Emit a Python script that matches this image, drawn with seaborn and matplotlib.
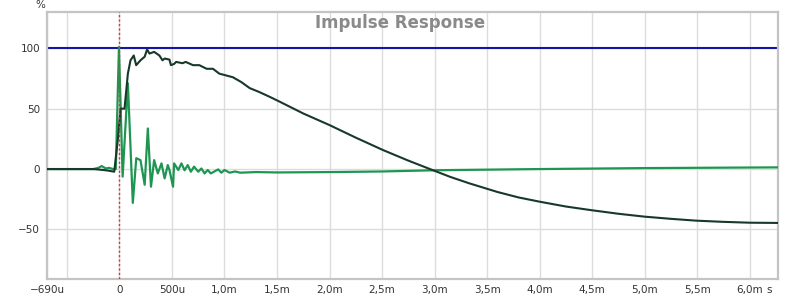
import numpy as np
import pandas as pd
import matplotlib
matplotlib.use("Agg")
import matplotlib.pyplot as plt
import seaborn as sns

# ---- data ----
step_t_ms = [-0.69, -0.4, -0.25, -0.15, -0.1, -0.05, -0.016, 0.01, 0.048, 0.08, 0.105, 0.136,
             0.159, 0.2, 0.24, 0.263, 0.286, 0.33, 0.38, 0.41, 0.43, 0.476, 0.49, 0.52, 0.54,
             0.6, 0.63, 0.7, 0.76, 0.83, 0.89, 0.95, 1.08, 1.16, 1.24, 1.33, 1.43, 1.52, 1.75,
             2.0, 2.25, 2.51, 2.75, 2.98, 3.15, 3.33, 3.6, 3.8, 4.0, 4.25, 4.49, 4.75, 5.0,
             5.25, 5.49, 5.75, 6.0, 6.27]
step_pct = [0, 0, 0, -0.8, -1.4, -2.2, 24, 50, 50, 79, 90, 94,
            86, 90, 93, 99, 95.6, 97, 94, 90, 91.5, 90.6, 86, 87, 88.7,
            87.6, 88.7, 86, 86, 83, 83, 79, 76, 72, 67, 63.8, 59.8, 56, 46,
            36.4, 26, 15.7, 7, -0.8, -6.5, -11.8, -19, -23.5, -27, -31, -34, -37, -39.4,
            -41.2, -42.7, -43.7, -44.4, -44.6]

imp_t_ms = [-0.69, -0.25, -0.2, -0.17, -0.13, -0.1, -0.06, -0.035, -0.005, 0.03, 0.08, 0.127,
            0.16, 0.2, 0.24, 0.27, 0.30, 0.33, 0.365, 0.40, 0.43, 0.46, 0.476, 0.51, 0.52,
            0.56, 0.59, 0.62, 0.65, 0.68, 0.71, 0.75, 0.78, 0.81, 0.84, 0.87, 0.94, 0.97,
            1.0, 1.05, 1.1, 1.15, 1.3, 1.5, 2.0, 2.5, 3.0, 3.5, 4.0, 5.0, 6.27]
imp_pct = [0, 0, 1, 2.5, 0.5, 1, 0, 0, 101, -6.3, 71, -28,
           9, 7.4, -13, 33.6, -14.6, 7.4, -3.6, 4.7, -7.7, 3.3, -0.8, -14.6, 4.7,
           -0.8, 4.7, -1, 3.3, -2.2, 2, -2.2, 0.5, -3.6, -0.8, -3.6, -0.3, -3,
           -0.8, -3, -2, -3, -2.5, -2.8, -2.5, -2, -1, -0.5, 0, 0.8, 1.4]

reference_pct = 100
x_ticks = [-0.69, -0.5, 0, 0.5, 1.0, 1.5, 2.0, 2.5, 3.0, 3.5, 4.0, 4.5, 5.0, 5.5, 6.0]
x_tick_labels = ["\u2212690u", "", "0", "500u", "1,0m", "1,5m", "2,0m", "2,5m", "3,0m",
                 "3,5m", "4,0m", "4,5m", "5,0m", "5,5m", "6,0m"]
y_ticks = [-50, 0, 50, 100]
y_tick_labels = ["\u221250", "0", "50", "100"]

sns.set_style("white")
plt.rcParams['font.family'] = ['DejaVu Sans']

fig = plt.figure(figsize=(8, 2.99), dpi=100)
ax = fig.add_axes([47 / 800, 1 - 279 / 299, (778 - 47) / 800, (279 - 12) / 299])

step_df = pd.DataFrame({"t": step_t_ms, "v": step_pct})
imp_df = pd.DataFrame({"t": imp_t_ms, "v": imp_pct})

ax.axhline(reference_pct, color="#1414a8", lw=1.5, zorder=2)
ax.axvline(0, color="#e03434", lw=1.0, ls=(0, (1.6, 1.6)), zorder=5)

sns.lineplot(data=imp_df, x="t", y="v", ax=ax, color="#1e9651", lw=1.6,
             estimator=None, sort=False, zorder=3)
sns.lineplot(data=step_df, x="t", y="v", ax=ax, color="#17392a", lw=1.5,
             estimator=None, sort=False, zorder=4)

ax.set_xlim(-0.69, 6.27)
ax.set_ylim(-91, 130)
ax.set_xticks(x_ticks)
ax.set_xticklabels(x_tick_labels)
ax.set_yticks(y_ticks)
ax.set_yticklabels(y_tick_labels)
ax.set_xlabel("")
ax.set_ylabel("")
ax.grid(True, color="#dcdcdc", lw=1.0, zorder=0)
ax.set_axisbelow(True)
ax.tick_params(axis="both", length=0, labelsize=7.5, labelcolor="#333333")
ax.tick_params(axis="x", pad=4)
ax.tick_params(axis="y", pad=5)
for s in ax.spines.values():
    s.set_color("#c4c4c4")
    s.set_linewidth(1.6)
    s.set_visible(True)

ax.text((400 - 47) / 731, (279 - 28) / 267, "Impulse Response", transform=ax.transAxes,
        ha="center", va="baseline", fontsize=12, fontweight="bold", color="#8a8a8a")
fig.text(40 / 800, 1 - 5 / 299, "%", ha="center", va="center", fontsize=7.5, color="#333333")
fig.text(769 / 800, 1 - 290 / 299, "s", ha="center", va="center", fontsize=7.5, color="#333333")

fig.savefig("out.png", dpi=100)
